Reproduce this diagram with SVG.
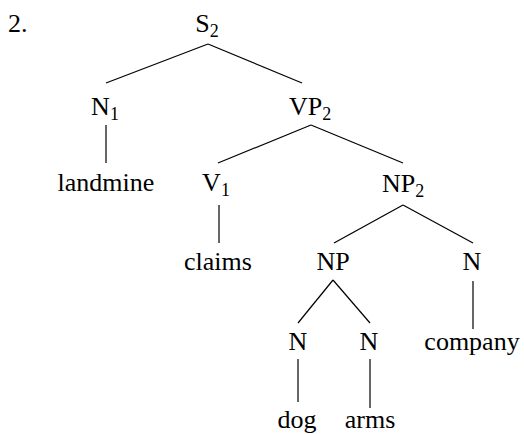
<svg xmlns="http://www.w3.org/2000/svg" width="524" height="434" viewBox="0 0 524 434">
  <style>
    .sub { font-size: 18px; }
    .edge { stroke: #000; stroke-width: 1.2; }
  </style>
  <rect width="524" height="434" fill="#fff"/>
  <text x="8" y="32" font-size="26" font-family="Liberation Serif">2.</text>

  <!-- tree branches -->
  <g id="edges">
    <line class="edge" x1="208" y1="44" x2="106" y2="83"/>
    <line class="edge" x1="208" y1="44" x2="302" y2="83"/>
    <line class="edge" x1="106" y1="125" x2="106" y2="163"/>
    <line class="edge" x1="311" y1="125" x2="218" y2="163"/>
    <line class="edge" x1="311" y1="125" x2="403" y2="163"/>
    <line class="edge" x1="219" y1="205" x2="219" y2="243"/>
    <line class="edge" x1="403" y1="205" x2="334" y2="243"/>
    <line class="edge" x1="403" y1="205" x2="473" y2="243"/>
    <line class="edge" x1="333" y1="280" x2="298" y2="323"/>
    <line class="edge" x1="333" y1="280" x2="370" y2="323"/>
    <line class="edge" x1="473" y1="281" x2="473" y2="329"/>
    <line class="edge" x1="298" y1="359" x2="298" y2="402"/>
    <line class="edge" x1="370" y1="359" x2="370" y2="408"/>
  </g>

  <g id="S2"><text x="207" y="32" font-size="26" font-family="Liberation Serif" text-anchor="middle">S<tspan class="sub" dy="5">2</tspan></text></g>
  <g id="N1"><text x="105" y="115" font-size="26" font-family="Liberation Serif" text-anchor="middle">N<tspan class="sub" dy="5">1</tspan></text></g>
  <g id="VP2"><text x="310" y="115" font-size="26" font-family="Liberation Serif" text-anchor="middle">VP<tspan class="sub" dy="5">2</tspan></text></g>
  <g id="landmine"><text x="106" y="191" font-size="26" font-family="Liberation Serif" text-anchor="middle">landmine</text></g>
  <g id="V1"><text x="216" y="191" font-size="26" font-family="Liberation Serif" text-anchor="middle">V<tspan class="sub" dy="5">1</tspan></text></g>
  <g id="NP2"><text x="403" y="192" font-size="26" font-family="Liberation Serif" text-anchor="middle">NP<tspan class="sub" dy="5">2</tspan></text></g>
  <g id="claims"><text x="218" y="270" font-size="26" font-family="Liberation Serif" text-anchor="middle">claims</text></g>
  <g id="NP"><text x="333" y="270" font-size="26" font-family="Liberation Serif" text-anchor="middle">NP</text></g>
  <g id="N-company"><text x="472" y="270" font-size="26" font-family="Liberation Serif" text-anchor="middle">N</text></g>
  <g id="N-dog"><text x="298" y="350" font-size="26" font-family="Liberation Serif" text-anchor="middle">N</text></g>
  <g id="N-arms"><text x="369" y="350" font-size="26" font-family="Liberation Serif" text-anchor="middle">N</text></g>
  <g id="company"><text x="472" y="350" font-size="26" font-family="Liberation Serif" text-anchor="middle">company</text></g>
  <g id="dog"><text x="297" y="428" font-size="26" font-family="Liberation Serif" text-anchor="middle">dog</text></g>
  <g id="arms"><text x="370" y="428" font-size="26" font-family="Liberation Serif" text-anchor="middle">arms</text></g>
</svg>
